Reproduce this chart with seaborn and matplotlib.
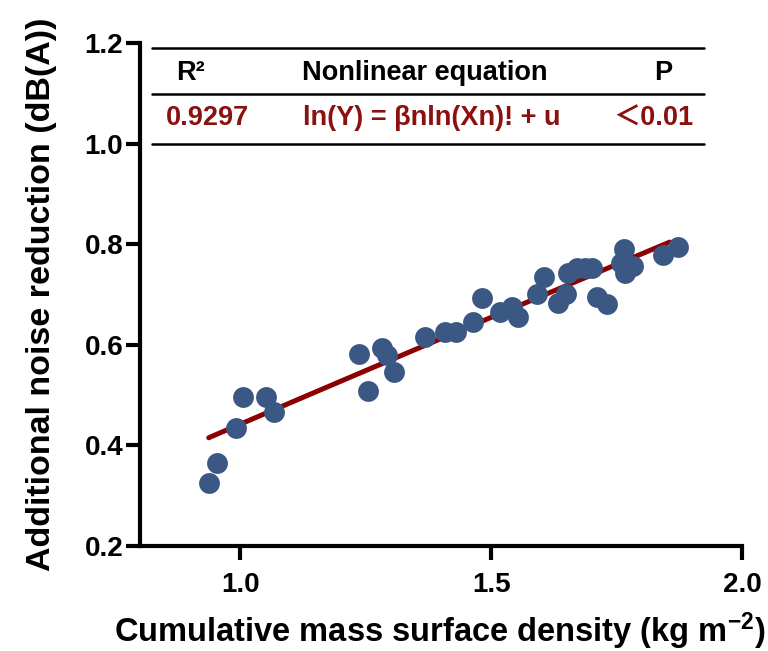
import numpy as np
import pandas as pd
import matplotlib
matplotlib.use("Agg")
import matplotlib.pyplot as plt
import seaborn as sns

# ---- data ----
density = [0.938, 0.953, 0.991, 1.005, 1.051, 1.067, 1.236, 1.254, 1.282, 1.292,
           1.306, 1.368, 1.408, 1.430, 1.463, 1.481, 1.517, 1.541, 1.553, 1.591,
           1.605, 1.633, 1.649, 1.653, 1.671, 1.687, 1.702, 1.712, 1.730, 1.764,
           1.759, 1.782, 1.766, 1.842, 1.872]
noise = [0.325, 0.365, 0.435, 0.496, 0.496, 0.466, 0.582, 0.508, 0.594, 0.580,
         0.546, 0.616, 0.625, 0.625, 0.645, 0.693, 0.665, 0.675, 0.655, 0.701,
         0.735, 0.683, 0.701, 0.743, 0.753, 0.753, 0.753, 0.695, 0.682, 0.791,
         0.763, 0.757, 0.743, 0.778, 0.794]
# fitted curve ln(Y) = beta*ln(X) + u
fit_beta = 0.967
fit_u = -0.816
fit_x_range = [0.937, 1.856]
x_ticks = [1.0, 1.5, 2.0]
y_ticks = [0.2, 0.4, 0.6, 0.8, 1.0, 1.2]
table_header = ["R\u00b2", "Nonlinear equation", "P"]
table_values = ["0.9297", "ln(Y) = \u03b2nln(Xn)! + u", "\uff1c0.01"]

df = pd.DataFrame({"x": density, "y": noise})

sns.set_theme(style="white")
plt.rcParams["font.family"] = ["Liberation Sans", "DejaVu Sans"]
plt.rcParams["font.weight"] = "bold"
plt.rcParams["text.color"] = "black"
plt.rcParams["axes.labelcolor"] = "black"
plt.rcParams["xtick.color"] = "black"
plt.rcParams["ytick.color"] = "black"
plt.rcParams["mathtext.fontset"] = "custom"
plt.rcParams["mathtext.rm"] = "Liberation Sans:bold"
plt.rcParams["mathtext.bf"] = "Liberation Sans:bold"
plt.rcParams["mathtext.default"] = "bf"

fig = plt.figure(figsize=(7.68, 6.51), dpi=100)
ax = fig.add_axes([0.1823, 0.1613, 0.7838, 0.7727])

xf = np.linspace(fit_x_range[0], fit_x_range[1], 100)
fit = pd.DataFrame({"x": xf, "y": np.exp(fit_u + fit_beta * np.log(xf))})
sns.lineplot(data=fit, x="x", y="y", ax=ax, color="#8b0000", linewidth=3.6, zorder=2)

sns.scatterplot(data=df, x="x", y="y", ax=ax, color="#3b5784", s=225,
                linewidth=0, alpha=1, zorder=3)

ax.set_xlim(0.8, 2.0)
ax.set_ylim(0.2, 1.2)
ax.set_xticks(x_ticks)
ax.set_yticks(y_ticks)
ax.set_xticklabels([f"{v:.1f}" for v in x_ticks], fontsize=20, fontweight="bold")
ax.set_yticklabels([f"{v:.1f}" for v in y_ticks], fontsize=20, fontweight="bold")
ax.tick_params(axis="both", direction="out", length=10, width=3, color="black",
               bottom=True, left=True)
ax.tick_params(axis="x", pad=9)
ax.tick_params(axis="y", pad=2)
for side in ["top", "right"]:
    ax.spines[side].set_visible(False)
for side in ["left", "bottom"]:
    ax.spines[side].set_linewidth(3)
    ax.spines[side].set_color("black")

ax.set_xlabel("Cumulative mass surface density (kg m$^{-2}$)", fontsize=23.5,
              fontweight="bold")
ax.set_ylabel("Additional noise reduction (dB(A))", fontsize=24.5,
              fontweight="bold")
ax.xaxis.set_label_coords(0.498, -0.128)
ax.yaxis.set_label_coords(-0.138, 0.5)

# table
for yy in [1.19, 1.099, 1.0]:
    ax.plot([0.824, 1.925], [yy, yy], color="black", lw=1.8, clip_on=False, zorder=1)
xs = [0.900, 1.368, 1.842]
xs2 = [0.934, 1.382, 1.824]
for xx, t in zip(xs, table_header):
    ax.text(xx, 1.140, t, ha="center", va="center", fontsize=19.5,
            fontweight="bold", color="black")
for xx, t in zip(xs2, table_values):
    ax.text(xx, 1.050, t, ha="center", va="center", fontsize=19.5,
            fontweight="bold", color="#8b1010",
            family=["Liberation Sans", "Noto Sans CJK SC", "DejaVu Sans"])

fig.savefig("out.png", dpi=100)
